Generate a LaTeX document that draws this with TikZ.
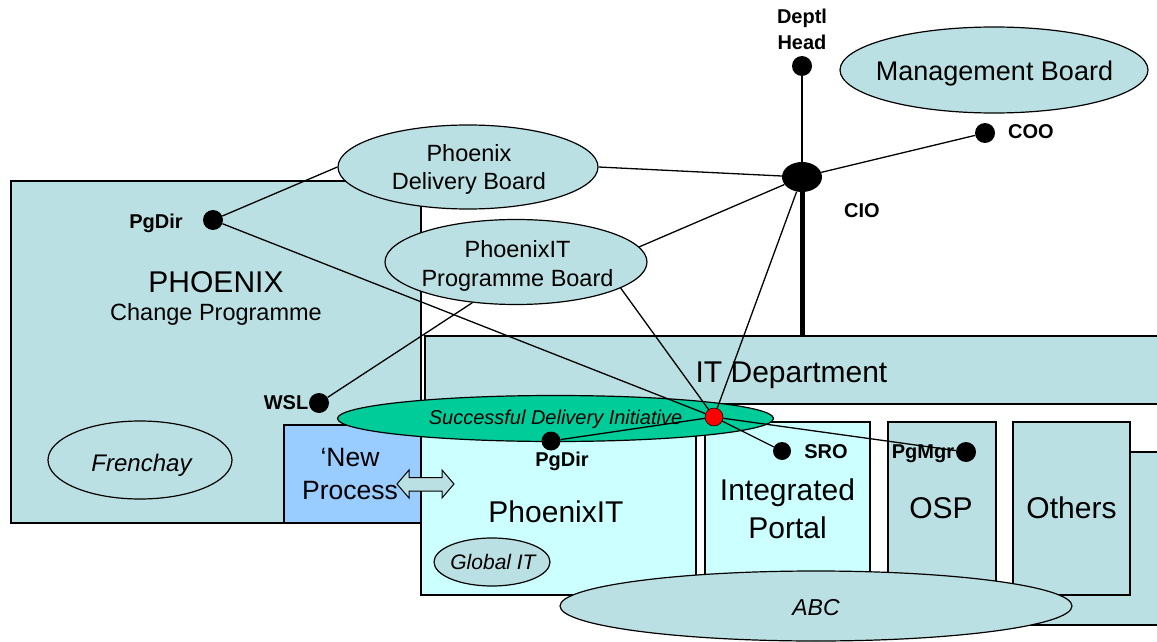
\documentclass[tikz,border=0pt]{standalone}
\usepackage{fontspec}
\setmainfont{Liberation Sans}
\usetikzlibrary{shapes.geometric}
\definecolor{cBG}{RGB}{187,224,227}
\definecolor{cCyan}{RGB}{204,255,255}
\definecolor{cNew}{RGB}{153,204,255}
\definecolor{cGreen}{RGB}{0,204,153}
\begin{document}
\begin{tikzpicture}[x=1pt,y=-1pt,
  box/.style={draw=black, line width=1.2pt, fill=cBG},
  oval/.style={ellipse, draw=black, line width=1.2pt, fill=cBG, inner sep=0pt},
  conn/.style={draw=black, line width=1.3pt},
  dot/.style={circle, fill=black, minimum size=20pt, inner sep=0pt},
  lbl/.style={font=\fontsize{20}{22}\selectfont\bfseries, inner sep=0pt, anchor=base},
  big/.style={font=\fontsize{30}{34}\selectfont, inner sep=0pt, anchor=base},
  mid/.style={font=\fontsize{23.5}{27}\selectfont, inner sep=0pt, anchor=base},
  ita/.style={font=\fontsize{21}{24}\selectfont\itshape, inner sep=0pt, anchor=base}]
\useasboundingbox (0,0) rectangle (1157,642);
\clip (0,0) rectangle (1157,642);
\fill[white] (0,0) rectangle (1157,642);

% boxes
\path[box] (11,181) rectangle (421,523);
\path[box] (425,336) rectangle (1170,404);
\path[box] (1030,452) rectangle (1170,625);
\path[box, fill=cNew] (284,425) rectangle (421,523);
\path[box, fill=cCyan] (421,422) rectangle (696,595);
\path[box, fill=cCyan] (705,422) rectangle (870,595);
\path[box] (888,422) rectangle (996,595);
\path[box] (1013,422) rectangle (1130,595);
\coordinate (itdtop) at (802,336);

% ellipses
\node[oval, minimum width=512pt, minimum height=70pt] (abc) at (816,606) {};
\node[oval, minimum width=184pt, minimum height=78pt] (fr) at (140,460) {};
\node[oval, minimum width=116pt, minimum height=48pt] (git) at (492,562) {};
\node[oval, minimum width=260pt, minimum height=84pt] (db) at (468,167) {};
\node[oval, minimum width=262pt, minimum height=85pt] (pb) at (516,262) {};
\node[oval, minimum width=308pt, minimum height=86pt] (mb) at (994,70) {};
\node[oval, fill=cGreen, minimum width=436pt, minimum height=46pt] (sdi) at (555.5,418.5) {};

% double arrow
\draw[line width=1pt, fill=cBG] (397,484) -- (409,470) -- (409,477.5) -- (442,477.5) -- (442,470) -- (454,484) -- (442,498) -- (442,491) -- (409,491) -- (409,498) -- cycle;

% dots
\node[dot] (pgdirA) at (213,220) {};
\node[dot] (wsl) at (319,403) {};
\node[dot, minimum size=19pt] (pgdirB) at (551,441) {};
\node[dot, minimum size=18pt] (sro) at (782,451) {};
\node[dot] (pgmgr) at (966,452) {};
\node[dot] (dh) at (802,66) {};
\node[dot] (coo) at (985,133) {};
\node[ellipse, fill=black, minimum width=40pt, minimum height=30pt, inner sep=0pt] (cio) at (802,177) {};
\node[circle, fill=red, draw=black, line width=0.5pt, minimum size=18pt, inner sep=0pt] (red) at (714,417) {};

% connectors
\draw[conn] (pgdirA) -- (db.west);
\draw[conn] (pgdirA) -- (red);
\draw[conn] (db.east) -- (cio);
\draw[conn] (pb.7) -- (cio);
\draw[conn] (cio) -- (dh);
\draw[conn] (cio) -- (coo);
\draw[conn] (cio) -- (red);
\draw[conn] (wsl) -- (pb.-137);
\draw[conn] (pb.-14) -- (red);
\draw[conn] (red) -- (pgdirB);
\draw[conn] (red) -- (sro);
\draw[conn] (red) -- (pgmgr);
\draw[line width=5pt] (cio) -- (itdtop);

% texts
\node[font=\fontsize{30}{34}\selectfont, inner sep=0pt, anchor=base] (t1) at (216,292) {PHOENIX};
\node[mid] (t2) at (216,320) {Change Programme};
\node[big] (t3) at (791.5,382) {IT Department};
\node[big] (t4) at (556,522) {PhoenixIT};
\node[big] (t5) at (787.5,500) {Integrated};
\node[big] (t6) at (787.5,538) {Portal};
\node[big] (t7) at (941,518) {OSP};
\node[big] (t8) at (1071.5,518) {Others};
\node[font=\fontsize{26.5}{30}\selectfont, inner sep=0pt, anchor=base] (t9) at (350,466) {‘New};
\node[font=\fontsize{26.5}{30}\selectfont, inner sep=0pt, anchor=base] (t10) at (350,499) {Process};
\node[font=\fontsize{27}{30}\selectfont, inner sep=0pt, anchor=base] (t11) at (994.5,81) {Management Board};
\node[mid] (t12) at (469,161) {Phoenix};
\node[mid] (t13) at (469,189) {Delivery Board};
\node[mid] (t14) at (517.5,257) {PhoenixIT};
\node[mid] (t15) at (517.5,286) {Programme Board};
\node[font=\fontsize{20}{24}\selectfont\itshape, inner sep=0pt, anchor=base] (t16) at (555.5,424) {Successful Delivery Initiative};
\node[font=\fontsize{24}{28}\selectfont\itshape, inner sep=0pt, anchor=base] (t17) at (141.5,471) {Frenchay};
\node[ita] (t18) at (493,569) {Global IT};
\node[font=\fontsize{23}{26}\selectfont\itshape, inner sep=0pt, anchor=base] (t19) at (816,615) {ABC};
\node[lbl] (l1) at (156,228) {PgDir};
\node[lbl] (l2) at (286,409) {WSL};
\node[lbl] (l3) at (562,466) {PgDir};
\node[lbl] (l4) at (826,458) {SRO};
\node[lbl] (l5) at (923,458) {PgMgr};
\node[lbl] (l6) at (802,24) {Deptl};
\node[lbl] (l7) at (802,50) {Head};
\node[lbl] (l8) at (1031,139) {COO};
\node[lbl] (l9) at (862,217) {CIO};
\end{tikzpicture}
\end{document}
